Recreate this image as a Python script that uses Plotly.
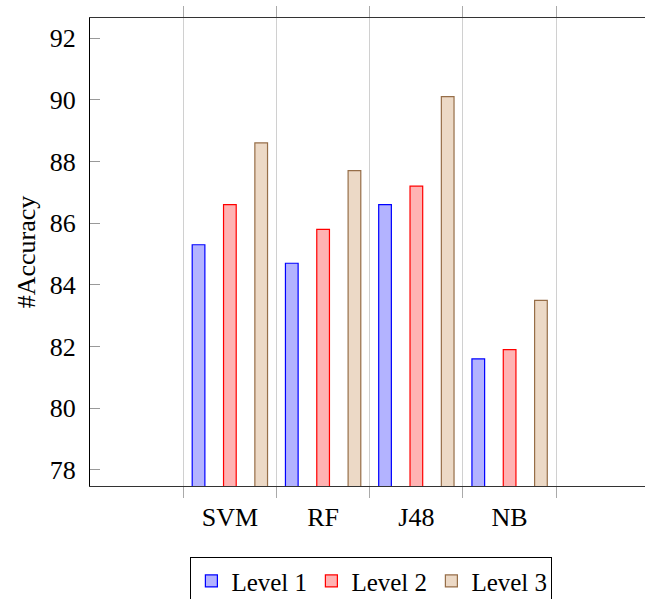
import plotly.graph_objects as go

categories = ["SVM", "RF", "J48", "NB"]
level1 = [85.3, 84.7, 86.6, 81.6]
level2 = [86.6, 85.8, 87.2, 81.9]
level3 = [88.6, 87.7, 90.1, 83.5]
series_names = ["Level 1", "Level 2", "Level 3"]
y_ticks = [78, 80, 82, 84, 86, 88, 90, 92]

FONT = "Liberation Serif, Times New Roman, serif"
fills = ["rgb(179,179,255)", "rgb(255,179,179)", "rgb(236,217,198)"]
lines = ["rgb(0,0,255)", "rgb(255,0,0)", "rgb(150,110,72)"]
offsets = [-0.336, 0.0, 0.336]
bw = 0.136

pos = list(range(len(categories)))
fig = go.Figure()
for name, vals, fc, lc, off in zip(series_names, [level1, level2, level3], fills, lines, offsets):
    fig.add_trace(go.Bar(
        x=pos, y=vals, name=name, width=bw, offset=off - bw / 2,
        marker=dict(color=fc, line=dict(color=lc, width=1.2)),
    ))

minor_vals = [p - 0.5 for p in pos] + [pos[-1] + 0.5]

fig.update_layout(
    width=646, height=599, autosize=False,
    margin=dict(l=90, r=1, t=18, b=113, autoexpand=False),
    plot_bgcolor="white", paper_bgcolor="white",
    barmode="overlay",
    font=dict(family=FONT, size=26, color="black"),
    showlegend=True,
    legend=dict(
        orientation="h", x=0.507, xanchor="center", y=-0.152, yanchor="top",
        bordercolor="black", borderwidth=1, font=dict(size=25, family=FONT),
        itemwidth=30, traceorder="normal", entrywidth=75, entrywidthmode="pixels",
    ),
    xaxis=dict(
        range=[-1.5, 4.452], tickmode="array", tickvals=pos, ticktext=categories,
        ticks="", showgrid=False, zeroline=False, automargin=False,
        showline=True, linecolor="#333333", linewidth=1, mirror="ticks",
        ticklabelstandoff=8,
        minor=dict(tickmode="array", tickvals=minor_vals, ticks="outside", ticklen=11,
                   tickcolor="#aaaaaa", showgrid=True, gridcolor="#d0d0d0", gridwidth=1),
    ),
    yaxis=dict(
        range=[77.48, 92.65], tickmode="array", tickvals=y_ticks, automargin=False,
        ticks="inside", ticklen=10, tickcolor="#999999",
        showgrid=False, zeroline=False, showline=True, linecolor="black", linewidth=1,
        ticklabelstandoff=8,
        title=dict(text="#Accuracy", standoff=6, font=dict(size=26, family=FONT)),
    ),
    yaxis2=dict(
        overlaying="y", side="right", range=[77.48, 92.65], tickmode="array",
        tickvals=y_ticks, ticks="inside", ticklen=10, tickcolor="#999999", automargin=False,
        showticklabels=False, showgrid=False, zeroline=False, showline=False,
    ),
)

post = (
    "document.documentElement.style.margin='0';"
    "document.documentElement.style.overflow='hidden';"
    "document.body.style.margin='0';document.body.style.padding='0';"
    "document.body.style.overflow='hidden';"
    "var gd=document.getElementById('{plot_id}');"
    "Plotly.relayout(gd,{width:646,height:599});"
)

fig.write_html("out.html", post_script=post,
               config={"responsive": False, "displayModeBar": False})
